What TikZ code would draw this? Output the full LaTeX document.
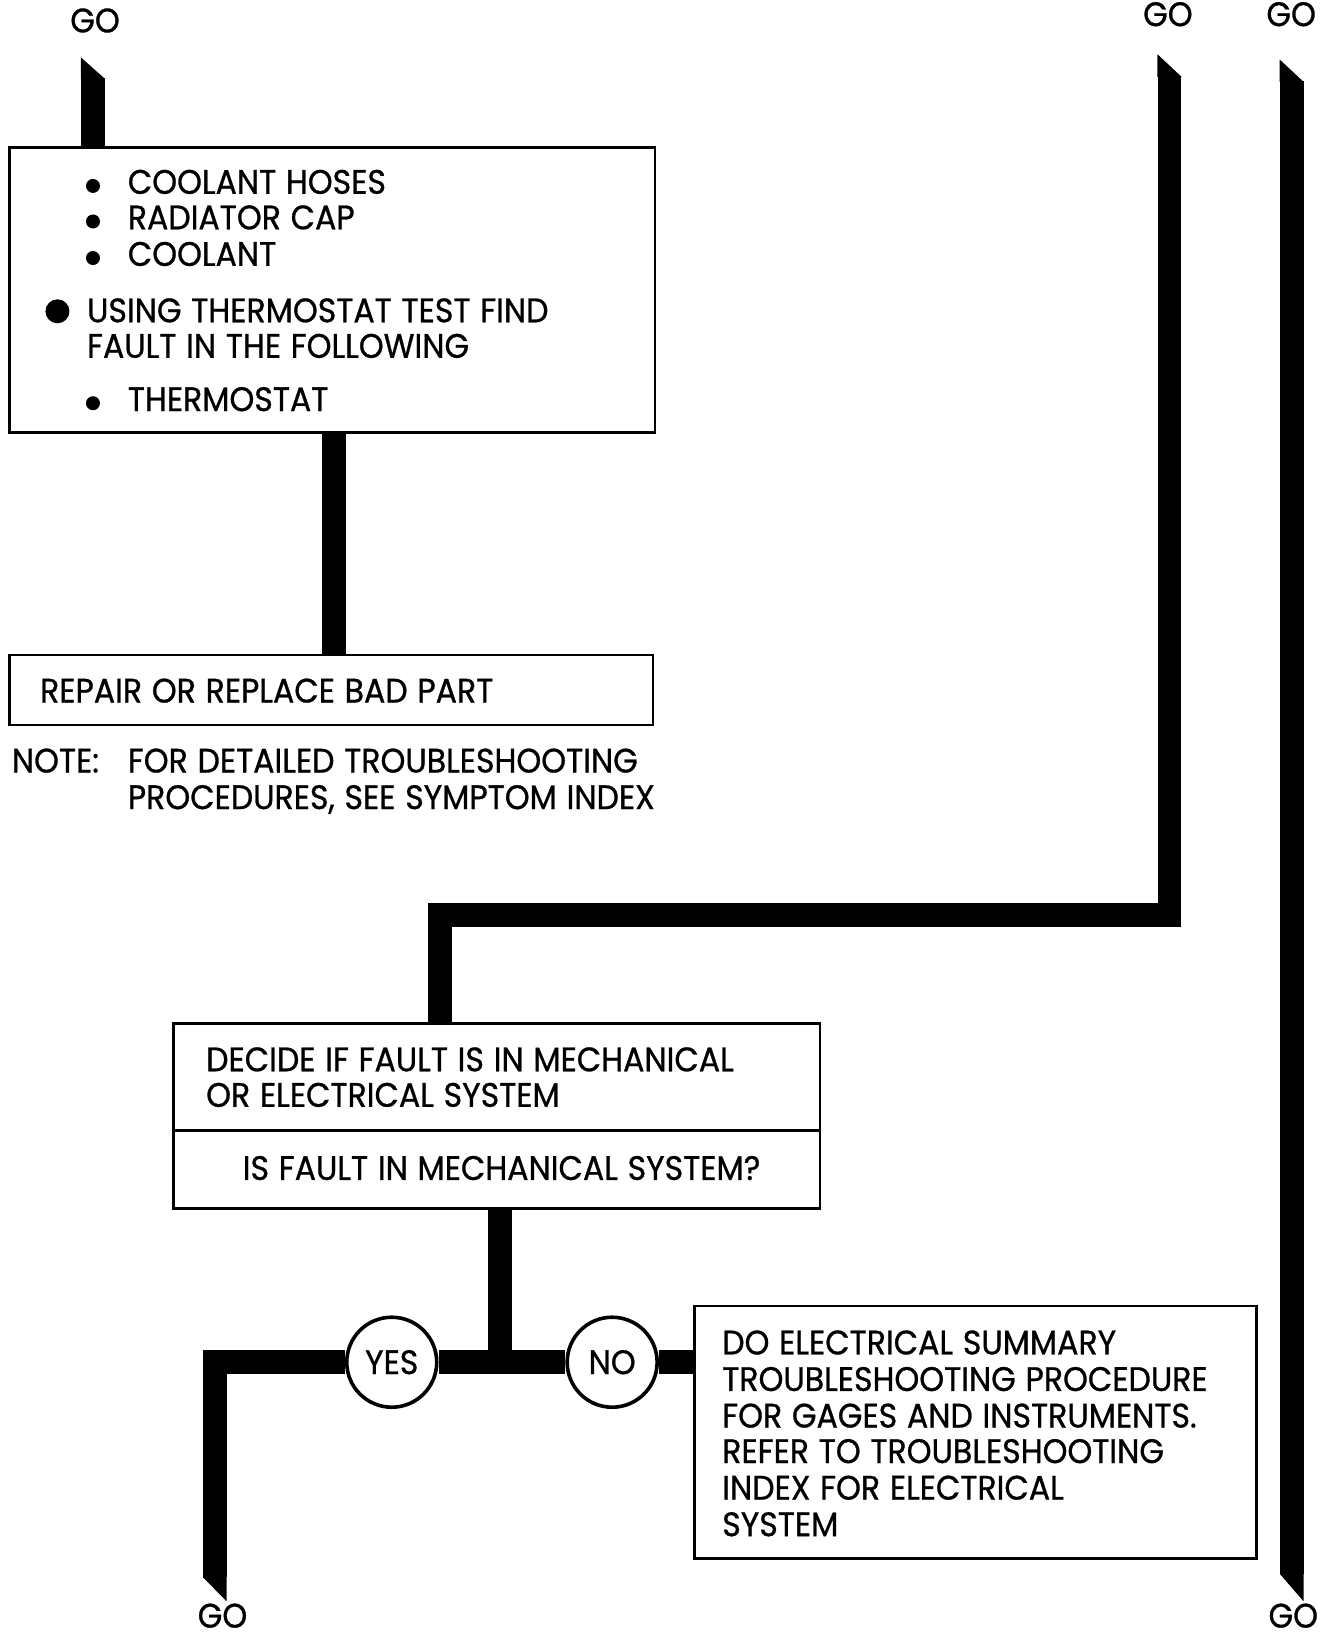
\documentclass[tikz,border=0pt]{standalone}
\usepackage{fontspec}
\setmainfont{Poppins}[FakeStretch=0.93, FakeBold=0.8, WordSpace=1.15]
\usetikzlibrary{backgrounds}
\newcommand\ux{0.52245pt}
\begin{document}
\begin{tikzpicture}[x=0.52245pt,y=-0.52245pt,
  bar/.style={line width=12pt, line join=miter, line cap=butt},
  box/.style={draw, line width=1.3pt, rectangle, inner sep=0pt},
  txt/.style={anchor=base west, inner sep=0pt, font=\fontsize{17}{20}\selectfont},
  golab/.style={anchor=base, inner sep=0pt, font=\fontsize{17}{20}\selectfont},
  ans/.style={circle, draw, line width=1.8pt, fill=white, minimum size=45pt, inner sep=0pt, font=\fontsize{17}{20}\selectfont},
  dot/.style={circle, fill, inner sep=0pt, minimum size=7pt},
  bigdot/.style={circle, fill, inner sep=0pt, minimum size=12pt},
  tip/.style={fill=black}]
\useasboundingbox (0,0) rectangle (1269,1568);

% GO labels
\node[golab] (goA) at (91,31) {GO};
\node[golab] (goB) at (1118,25) {GO};
\node[golab] (goC) at (1236,25) {GO};
\node[golab] (goD) at (213,1558) {GO};
\node[golab] (goE) at (1238,1558) {GO};

% boxes
\node[box, minimum width={618*\ux}, minimum height={273*\ux}] (box1) at (318,277.5) {};
\node[box, minimum width={616*\ux}, minimum height={67*\ux}] (box2) at (317,660.5) {};
\node[box, minimum width={619*\ux}, minimum height={177*\ux}] (box3) at (475.5,1068.5) {};
\node[box, minimum width={538*\ux}, minimum height={242*\ux}] (box4) at (934,1371) {};
\coordinate (dv) at (0,1082);
\draw[line width=1.3pt] (box3.west |- dv) -- (box3.east |- dv);

% box 1 text
\node[dot] (d1) at (89,178) {};
\node[txt] (t11) at (122,185.5) {COOLANT HOSES};
\node[dot] (d2) at (89,212) {};
\node[txt] (t12) at (122,219.5) {RADIATOR CAP};
\node[dot] (d3) at (89,247) {};
\node[txt] (t13) at (122,254.5) {COOLANT};
\node[bigdot] (d4) at (55,298) {};
\node[txt] (t14) at (83,308.5) {USING THERMOSTAT TEST FIND};
\node[txt] (t15) at (83,342.5) {FAULT IN THE FOLLOWING};
\node[dot] (d5) at (89,386) {};
\node[txt] (t16) at (122,393.5) {THERMOSTAT};

% box 2 and note
\node[txt] (t21) at (38,672.5) {REPAIR OR REPLACE BAD PART};
\node[txt] (n1) at (11,739.5) {NOTE:};
\node[txt] (n2) at (122,739.5) {FOR DETAILED TROUBLESHOOTING};
\node[txt] (n3) at (122,774.5) {PROCEDURES, SEE SYMPTOM INDEX};

% box 3 text
\node[txt] (t31) at (197,1025.5) {DECIDE IF FAULT IS IN MECHANICAL};
\node[txt] (t32) at (197,1059.5) {OR ELECTRICAL SYSTEM};
\node[txt] (t33) at (232,1129.5) {IS FAULT IN MECHANICAL SYSTEM?};

% box 4 text
\node[txt] (t41) at (691,1296.5) {DO ELECTRICAL SUMMARY};
\node[txt] (t42) at (691,1331.5) {TROUBLESHOOTING PROCEDURE};
\node[txt] (t43) at (691,1366.5) {FOR GAGES AND INSTRUMENTS.};
\node[txt] (t44) at (691,1400.5) {REFER TO TROUBLESHOOTING};
\node[txt] (t45) at (691,1435.5) {INDEX FOR ELECTRICAL};
\node[txt] (t46) at (691,1470.5) {SYSTEM};

% answers
\node[ans] (yes) at (375,1304) {YES};
\node[ans] (no) at (586,1304) {NO};

% coordinates for bar ends and bends
\coordinate (tA) at (89,75);
\coordinate (c2) at (319.5,0);
\coordinate (tB) at (1119.5,73);
\coordinate (c3) at (421.5,876);
\coordinate (tC) at (1236.5,78);
\coordinate (bC) at (1236.5,1507);
\coordinate (c4) at (478.5,1304);
\coordinate (bD) at (205.5,1510);

\begin{scope}[on background layer]
% top-left GO to box1
\draw[bar] (tA) -- (tA |- box1.north);
\fill[tip] (77.5,75.5) -- (77.5,55) -- (100.5,75.5) -- cycle;
% box1 to box2
\draw[bar] (box1.south -| c2) -- (box2.north -| c2);
% GO (top right) to box3
\draw[bar] (tB) |- (c3) -- (box3.north -| c3);
\fill[tip] (1108,73.5) -- (1108,52) -- (1131,73.5) -- cycle;
% through line GO to GO
\draw[bar] (tC) -- (bC);
\fill[tip] (1225,78.5) -- (1225,57) -- (1248,78.5) -- cycle;
\fill[tip] (1225,1506.5) -- (1248,1506.5) -- (1248,1533) -- cycle;
% box3 to decision
\draw[bar] (box3.south -| c4) -- (c4);
\draw[bar] (yes) -- (no);
\draw[bar] (no) -- (box4.west |- no);
\draw[bar] (yes) -| (bD);
\fill[tip] (194,1509.5) -- (217,1509.5) -- (217,1533) -- cycle;
\end{scope}
\end{tikzpicture}
\end{document}
